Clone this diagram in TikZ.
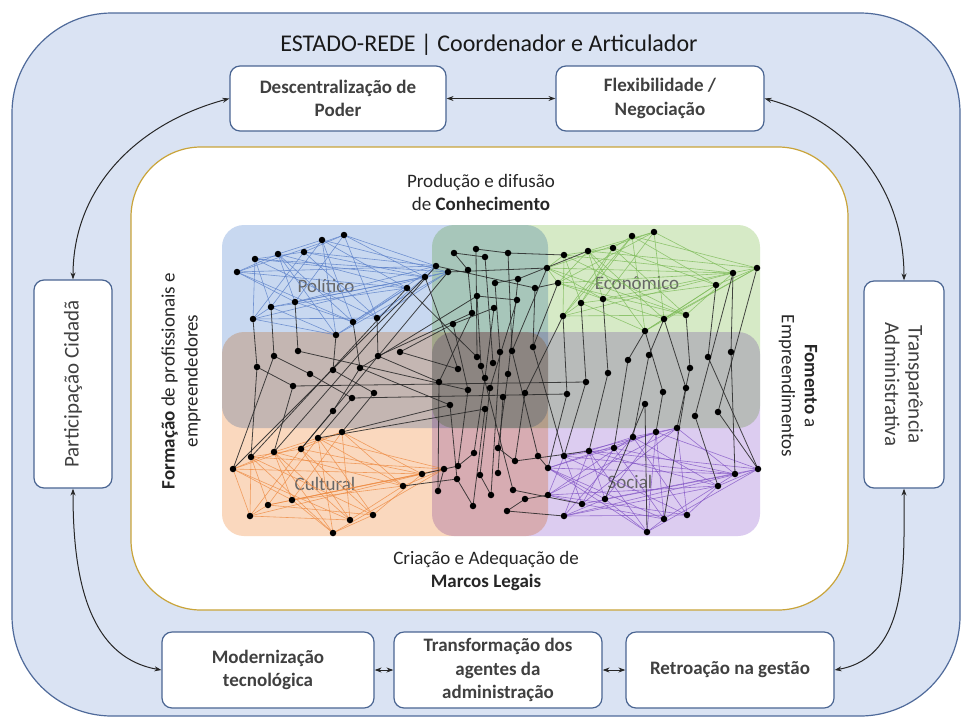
\documentclass[tikz,border=0pt]{standalone}
\usepackage{fontspec}
\setmainfont{Carlito}
\usetikzlibrary{arrows.meta}
\definecolor{outerfill}{HTML}{DAE3F3}
\definecolor{outerline}{HTML}{4F6A9A}
\definecolor{goldline}{HTML}{C9A43A}
\definecolor{boxline}{HTML}{4A6592}
\definecolor{boxtext}{HTML}{404040}
\definecolor{rblue}{HTML}{C8D8F0}
\definecolor{rgreen}{HTML}{D6EAC6}
\definecolor{rorange}{HTML}{FAD8BE}
\definecolor{rpurple}{HTML}{DCCCF0}
\definecolor{eblue}{HTML}{5B80C9}
\definecolor{egreen}{HTML}{7DBB58}
\definecolor{eorange}{HTML}{EE8C45}
\definecolor{epurple}{HTML}{8457C6}
\newcommand\mycluster[3]{%
  \foreach \i in {1,...,#2}{%
    \foreach \k in {2,5,7}{%
      \pgfmathtruncatemacro\j{mod(\i+\k-1,#2)+1}%
      \draw[#3] (#1\i) -- (#1\j);
    }%
  }%
}
\tikzset{
  box/.style={draw=boxline, line width=1.2pt, fill=white, rounded corners=10pt, align=center, text=boxtext, font=\fontsize{19}{23.5}\selectfont\bfseries},
  plaintxt/.style={align=center, text=boxtext, font=\fontsize{21}{23.5}\selectfont},
  arr/.style={{Stealth[length=7pt,width=5pt]}-{Stealth[length=7pt,width=5pt]}, line width=1pt, black!85},
  dot/.style={circle, fill=black, inner sep=0pt, minimum size=6.5pt},
  blk/.style={draw=black!85, line width=0.8pt, opacity=0.85},
  reglabel/.style={text=black!60, font=\fontsize{19}{22}\selectfont},
  innertxt/.style={align=center, text=black!85, font=\fontsize{19}{23}\selectfont},
}
\begin{document}
\begin{tikzpicture}[x=1pt,y=-1pt]
\useasboundingbox (0,0) rectangle (968,718);
\fill[white] (0,0) rectangle (968,718);
% outer state box
\draw[fill=outerfill, draw=outerline, line width=1.2pt, rounded corners=100pt] (12,13) rectangle (960,716);
\node[text=black!90, font=\fontsize{24}{28}\selectfont] (title) at (489,45) {ESTADO-REDE | Coordenador e Articulador};
% inner box
\draw[fill=white, draw=goldline, line width=1.2pt, rounded corners=70pt] (131,147) rectangle (848,610);

% boxes
\node[box, minimum width=216pt, minimum height=65pt] (desc) at (338,98.5) {Descentralização de\\Poder};
\node[box, minimum width=208pt, minimum height=65pt] (flex) at (660,98.5) {Flexibilidade /\\Negociação};
\node[box, minimum width=78pt, minimum height=208pt] (part) at (73,384) {};
\node[plaintxt, rotate=90] (partt) at (part.center) {Participação Cidadã};
\node[box, minimum width=80pt, minimum height=207pt] (trans) at (904,384.5) {};
\node[plaintxt, rotate=-90] (transt) at (trans.center) {Transparência\\Administrativa};
\node[box, minimum width=212pt, minimum height=76pt] (mod) at (268,670) {Modernização\\tecnológica};
\node[box, minimum width=208pt, minimum height=76pt] (transf) at (498,670) {Transformação dos\\agentes da\\administração};
\node[box, minimum width=208pt, minimum height=76pt] (retro) at (730,670) {Retroação na gestão};

% arrows
\draw[arr] (desc.east) -- (flex.west);
\draw[arr] (mod.east) -- (transf.west);
\draw[arr] (transf.east) -- (retro.west);
\draw[arr] (desc.west) to[out=195,in=90] (part.north);
\draw[arr] (flex.east) to[out=-15,in=90] (trans.north);
\draw[arr] (part.south) to[out=-90,in=170] (mod.west);
\draw[arr] (trans.south) to[out=-90,in=10] (retro.east);

% inner texts
\node[innertxt] (conh) at (481,192) {Produção e difusão\\de \textbf{Conhecimento}};
\node[innertxt] (marcos) at (486,571) {Criação e Adequação de\\\textbf{Marcos Legais}};
\node[innertxt, rotate=90] (form) at (181,381) {\textbf{Formação} de profissionais e\\empreendedores};
\node[innertxt, rotate=-90] (fom) at (798,386) {\textbf{Fomento} a\\Empreendimentos};

% regions
\begin{scope}[rounded corners=22pt]
\fill[rblue, blend mode=multiply] (222,225) rectangle (548,428);
\fill[rgreen, blend mode=multiply] (432,225) rectangle (760,428);
\fill[rorange, blend mode=multiply] (222,332) rectangle (548,536);
\fill[rpurple, blend mode=multiply] (432,332) rectangle (760,536);
\end{scope}
\node[reglabel] (lpol) at (326,286) {Político};
\node[reglabel] (leco) at (637,283) {Econômico};
\node[reglabel] (lcul) at (325,484) {Cultural};
\node[reglabel] (lsoc) at (630,482) {Social};

% network points
\def\allpts{a1/237/272, a2/255/259, a3/278/254, a4/304/252, a5/322/240, a6/344/235, a7/271/307, a8/295/302, a9/253/319, a10/353/322, a11/377/318, a12/407/288, a13/425/277, a14/336/335, a15/436/266, a16/448/272,
e1/632/236, e2/654/232, e3/613/248, e4/588/251, e5/564/255, e6/757/268, e7/733/273, e8/716/285, e9/558/283, e10/581/303, e11/603/299, e12/563/316, e13/664/319, e14/686/315, e15/645/331, e16/547/268,
c1/233/469, c2/251/457, c3/274/452, c4/301/449, c5/318/438, c6/342/432, c7/268/505, c8/292/500, c9/250/516, c10/333/533, c11/350/520, c12/373/515, c13/403/486, c14/422/474, c15/444/469,
s1/564/456, s2/589/451, s3/614/448, s4/633/437, s5/656/432, s6/677/428, s7/758/469, s8/735/474, s9/718/486, s10/548/468, s11/548/495, s12/605/499, s13/582/504, s14/564/516, s15/664/519, s16/687/515, s17/647/532,
t1/454/253, t2/476/249, t3/485/257, t4/508/253, t5/468/270, t6/495/283, t7/518/279, t8/535/288, t9/477/296, t10/517/300, t11/494/308, t12/472/313, t13/453/324,
b1/274/356, b2/298/351, b3/257/367, b4/310/374, b5/333/370, b6/360/368, b7/293/386, b8/352/398, b9/374/393, b10/333/411, b11/378/356, b12/400/352,
m1/533/347, m2/512/351, m3/500/352, m4/477/357, m5/481/366, m6/493/363, m7/458/369, m8/439/382, m9/485/378, m10/508/374, m11/468/390, m12/490/388, m13/503/397, m14/525/393, m15/450/405, m16/485/409,
g1/708/357, g2/731/352, g3/649/355, g4/628/360, g5/608/373, g6/690/368, g7/586/382, g8/567/394, g9/663/392, g10/686/388, g11/645/404, g12/695/416, g13/718/412,
h1/458/466, h2/457/479, h3/438/491, h4/474/453, h5/498/448, h6/480/475, h7/498/473, h8/515/461, h9/538/456, h10/513/490, h11/491/495, h12/525/499, h13/473/506, h14/507/511}
\foreach \n/\x/\y in \allpts {\coordinate (\n) at (\x,\y);}

% cluster edges
\mycluster{a}{16}{eblue, line width=0.6pt, opacity=0.8}
\mycluster{e}{16}{egreen, line width=0.6pt, opacity=0.8}
\mycluster{c}{15}{eorange, line width=0.6pt, opacity=0.8}
\mycluster{s}{17}{epurple, line width=0.6pt, opacity=0.8}

% black edges
\foreach \u/\v in {a9/b3, a7/b1, a8/b2, a14/b5, a10/b6, a11/b11, a12/m4, a13/m7, a13/c1, a12/c2, a15/c3, a16/c4, a16/e16, a15/t8,
 t1/t5, t2/m4, t3/m6, t4/m2, t5/t12, t6/m3, t7/m10, t8/m1, t9/m5, t10/m12, t11/m9, t12/m8, t13/m11, t4/e5, t8/e9, t7/e4, t2/t4, t1/t3, t6/t7, t9/t10, t11/t13,
 b3/b7, b1/b4, b4/b8, b5/b9, b6/b10, b7/c3, b8/c5, b9/c6, b10/c4, b11/m8, b12/m7, b2/m11, b6/m15, b7/g7, b8/g8, b12/t13, b11/t12, b6/t9, b1/c1, b3/c2,
 m8/h3, m11/h1, m12/h6, m13/h7, m14/h8, m15/h2, m16/h13, m9/h4, m10/h5, m1/s1, m2/h9, m3/h11, m5/h10,
 c6/m15, c5/m16, c15/h3, c14/h1, c13/h2,
 e12/g8, e10/g7, e11/g5, e15/g4, e13/g3, e14/g6, e8/g1, e7/g2, e15/g9, e13/g10, e6/g13, e7/g12, e9/m1, e16/m2, e12/m14,
 g1/s7, g2/s8, g3/s4, g4/s3, g5/s2, g6/s6, g7/s1, g8/s10, g9/s5, g10/s15, g11/s12, g12/s9, g13/s7, g11/s17,
 h9/s10, h12/s11, h8/s2, h14/s14, h10/s13, h1/h4, h5/h8, h6/h11, h12/h14, h2/h13}
 {\draw[blk] (\u) -- (\v);}

% dots
\foreach \n/\x/\y in \allpts {\node[dot] (d\n) at (\n) {};}
\end{tikzpicture}
\end{document}
